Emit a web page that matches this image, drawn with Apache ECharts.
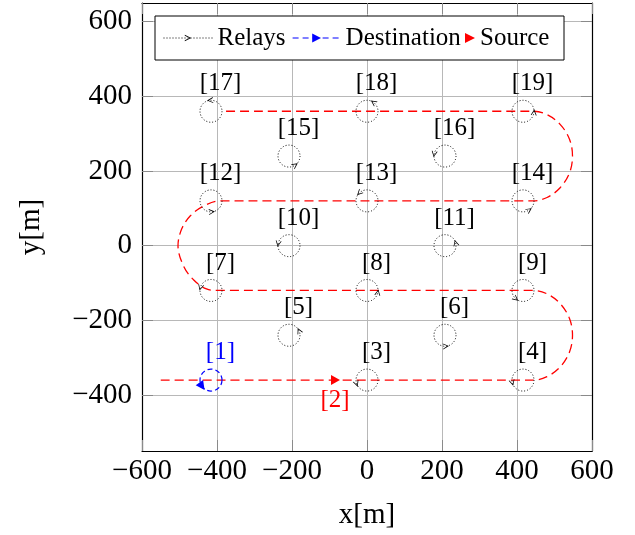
<!DOCTYPE html>
<html>
<head>
<meta charset="utf-8">
<script src="https://cdn.jsdelivr.net/npm/echarts@6/dist/echarts.min.js"></script>
<style>html,body{margin:0;padding:0;background:#fff}#c{width:635px;height:535px}</style>
</head>
<body>
<div id="c"></div>
<script>
// ---- data ----
const xTicks = [-600, -400, -200, 0, 200, 400, 600];
const yTicks = [-400, -200, 0, 200, 400, 600];

const relayNames = ['[3]','[4]','[5]','[6]','[7]','[8]','[9]','[10]','[11]','[12]','[13]','[14]','[15]','[16]','[17]','[18]','[19]'];
const relayX = [0, 416, -208, 208, -416, 0, 416, -208, 208, -416, 0, 416, -208, 208, -416, 0, 416];
const relayY = [-360, -360, -240, -240, -120, -120, -120, 0, 0, 120, 120, 120, 240, 240, 360, 360, 360];
// position (deg, counter-clockwise from +x) of the small arrow tip on each relay circle
const relayArrowAngle = [-160, -165, 25, -85, 165, -10, -130, 170, 15, -85, 135, -55, -55, 170, 95, 55, -5];

const destName = '[1]';
const destX = [-416];
const destY = [-360];
const destArrowAngle = [-145];

const sourceName = '[2]';
const sourceX = [-84];
const sourceY = [-360];

// red dashed route
const routeX = [-550, 444, 480, 515, 540, 548, 540, 515, 480, 444, -396, -428, -462, -489, -504, -494, -471, -436, -392, 444, 480, 515, 540, 548, 540, 515, 480, 444, -378];
const routeY = [-360, -360, -351, -325, -285, -240, -195, -155, -129, -120, -120, -116, -92, -55, 0, 45, 80, 106, 120, 120, 129, 155, 195, 240, 285, 325, 351, 360, 360];

// ---- styling ----
const FONT = "'Liberation Serif', 'DejaVu Serif', serif";
const R = 11; // circle radius in px
const arrowOpen = 'path://M0,0 L10,5 L0,10 L0,8.6 L7.2,5 L0,1.4 Z';
const arrowFilled = 'path://M0,0 L10,5 L0,10 Z';
const fmt = v => (v < 0 ? '\u2212' + (-v) : String(v));

const chart = echarts.init(document.getElementById('c'), null, {renderer: 'canvas'});

function arrowItem(x, y, ang) {
  const t = ang * Math.PI / 180;
  return {
    value: [x, y],
    symbolRotate: ang + 90,
    symbolOffset: [R * Math.cos(t), -R * Math.sin(t)]
  };
}

const circleData = relayNames.map((n, i) => ({name: n, value: [relayX[i], relayY[i]]}));
circleData.push({
  name: destName, value: [destX[0], destY[0]],
  itemStyle: {borderColor: '#0000ff', borderType: [5, 3], borderWidth: 1.2},
  label: {color: '#0000ff'}
});

const axisLineStyle = {show: true, onZero: false, lineStyle: {color: '#000', width: 1.2}};
const tickStyle = {show: true, inside: true, length: 11, lineStyle: {color: '#8a8a8a', width: 1}};

const option = {
  animation: false,
  backgroundColor: '#fff',
  grid: {left: 142, top: 3, width: 450, height: 450, containLabel: false},
  xAxis: [
    {
      type: 'value', min: -600, max: 600, interval: 200, position: 'bottom',
      axisLine: axisLineStyle, axisTick: tickStyle,
      axisLabel: {fontSize: 29, fontFamily: FONT, color: '#000', margin: 6, formatter: fmt},
      splitLine: {show: true, lineStyle: {color: '#b8b8b8', width: 1}},
      name: 'x[m]', nameLocation: 'middle', nameGap: 50,
      nameTextStyle: {fontSize: 29, fontFamily: FONT, color: '#000'}
    },
    {
      type: 'value', min: -600, max: 600, interval: 200, position: 'top',
      axisLine: axisLineStyle, axisTick: tickStyle,
      axisLabel: {show: false}, splitLine: {show: false}
    }
  ],
  yAxis: [
    {
      type: 'value', min: -550, max: 650, position: 'left',
      axisLine: axisLineStyle,
      axisTick: Object.assign({customValues: yTicks}, tickStyle),
      axisLabel: {customValues: yTicks, fontSize: 29, fontFamily: FONT, color: '#000', margin: 10, formatter: fmt},
      splitLine: {show: true, lineStyle: {color: '#b8b8b8', width: 1}},
      name: 'y[m]', nameLocation: 'middle', nameGap: 96, nameRotate: 90,
      nameTextStyle: {fontSize: 29, fontFamily: FONT, color: '#000'}
    },
    {
      type: 'value', min: -550, max: 650, position: 'right',
      axisLine: axisLineStyle,
      axisTick: Object.assign({customValues: yTicks}, tickStyle),
      axisLabel: {show: false, customValues: yTicks}, splitLine: {show: false}
    }
  ],
  legend: [
    {
      data: ['Relays'], left: 163, top: 23, padding: 0, itemGap: 0,
      itemWidth: 49, itemHeight: 8, selectedMode: false,
      textStyle: {fontSize: 25, fontFamily: FONT, color: '#000', lineHeight: 30},
      itemStyle: {opacity: 1},
      lineStyle: {type: [1, 2], width: 1, color: '#000', opacity: 1}
    },
    {
      data: ['Destination'], left: 292, top: 23, padding: 0, itemGap: 0,
      itemWidth: 48, itemHeight: 11, selectedMode: false,
      textStyle: {fontSize: 25, fontFamily: FONT, color: '#000', lineHeight: 30},
      itemStyle: {opacity: 1},
      lineStyle: {type: [6, 4], width: 1.2, color: '#0000ff', opacity: 1}
    },
    {
      data: ['Source'], left: 465, top: 23, padding: 0, itemGap: 0,
      itemWidth: 10, itemHeight: 10, selectedMode: false,
      itemStyle: {opacity: 1},
      textStyle: {fontSize: 25, fontFamily: FONT, color: '#000', lineHeight: 30}
    }
  ],
  graphic: [
    {type: 'rect', z: 3, shape: {x: 155, y: 16, width: 409, height: 44},
     style: {fill: '#fff', stroke: '#000', lineWidth: 1}}
  ],
  series: [
    {
      type: 'line', name: 'route', silent: true, z: 2,
      data: routeX.map((x, i) => [x, routeY[i]]),
      showSymbol: false, smooth: 0.35,
      lineStyle: {color: '#ff0000', width: 1.3, type: [9, 5]}
    },
    {
      type: 'scatter', name: 'circles', silent: true, z: 3,
      data: circleData, symbol: 'circle', symbolSize: 2 * R,
      itemStyle: {opacity: 1, color: 'rgba(0,0,0,0)', borderColor: '#000', borderWidth: 1, borderType: [1, 2]},
      label: {show: true, formatter: '{b}', position: [2 * R - 1, -16], align: 'center', verticalAlign: 'middle',
              fontSize: 25, fontFamily: FONT, color: '#000'}
    },
    {
      type: 'line', name: 'Relays', silent: true, z: 4,
      data: relayNames.map((n, i) => arrowItem(relayX[i], relayY[i], relayArrowAngle[i])),
      symbol: arrowOpen, symbolSize: 6, showSymbol: true,
      itemStyle: {color: '#000', opacity: 1},
      lineStyle: {width: 0, opacity: 0}
    },
    {
      type: 'line', name: 'Destination', silent: true, z: 4,
      data: destX.map((x, i) => arrowItem(x, destY[i], destArrowAngle[i])),
      symbol: arrowFilled, symbolSize: 9, showSymbol: true,
      itemStyle: {color: '#0000ff', opacity: 1},
      lineStyle: {width: 0, opacity: 0}
    },
    {
      type: 'scatter', name: 'Source', silent: true, z: 4,
      data: sourceX.map((x, i) => ({name: sourceName, value: [x, sourceY[i]]})),
      symbol: arrowFilled, symbolSize: [9, 10],
      itemStyle: {color: '#ff0000', opacity: 1},
      label: {show: true, formatter: '{b}', position: [4, 25], align: 'center', verticalAlign: 'middle',
              fontSize: 25, fontFamily: FONT, color: '#ff0000'}
    }
  ]
};
chart.setOption(option);
</script>
</body>
</html>
